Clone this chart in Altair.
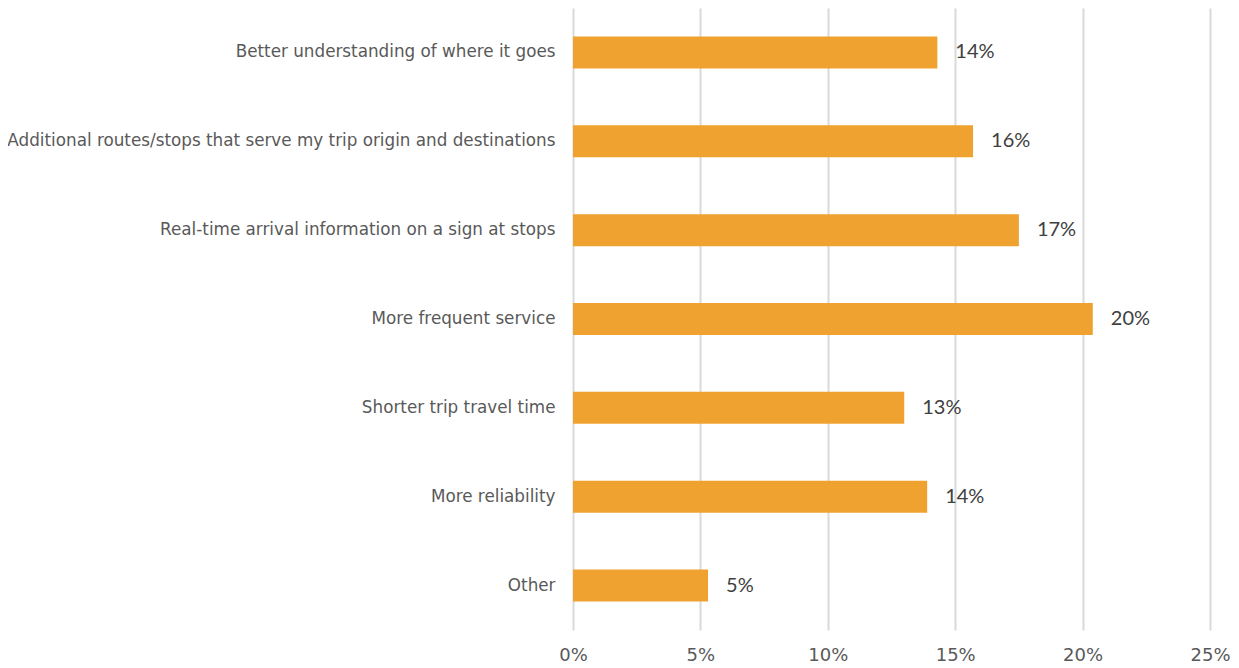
import altair as alt
import pandas as pd

categories = [
    "Better understanding of where it goes",
    "Additional routes/stops that serve my trip origin and destinations",
    "Real-time arrival information on a sign at stops",
    "More frequent service",
    "Shorter trip travel time",
    "More reliability",
    "Other",
]
values = [0.143, 0.157, 0.175, 0.204, 0.130, 0.139, 0.053]
labels = ["14%", "16%", "17%", "20%", "13%", "14%", "5%"]

df = pd.DataFrame({"cat": categories, "val": values, "lab": labels})

y = alt.Y("cat:N", sort=categories, title=None,
          scale=alt.Scale(paddingInner=0.64, paddingOuter=0.32),
          axis=alt.Axis(domain=False, ticks=False, labelPadding=18,
                        labelFont="DejaVu Sans", labelFontSize=16.8,
                        labelColor="#595959", labelLimit=600, grid=False))
x = alt.X("val:Q", title=None,
          scale=alt.Scale(domain=[0, 0.25], nice=False),
          axis=alt.Axis(values=[0, 0.05, 0.10, 0.15, 0.20, 0.25], format=".0%",
                        domain=False, ticks=False, grid=True, gridColor="#d9d9d9",
                        gridWidth=2, labelFont="DejaVu Sans", labelFontSize=18,
                        labelFlush=False, labelOverlap=False, labelBound=False,
                        labelColor="#595959", labelPadding=16))

bars = alt.Chart(df).mark_bar(color="#EFA22F").encode(x=x, y=y)
text = alt.Chart(df).mark_text(align="left", baseline="middle", dx=18,
                               font="Lato", fontSize=20, color="#404040").encode(
    x="val:Q", y=alt.Y("cat:N", sort=categories), text="lab:N")

chart = (bars + text).properties(
    width=637, height=622,
    autosize=alt.AutoSizeParams(type="none"),
    padding={"left": 565, "top": 0, "right": 21, "bottom": 40},
).configure_view(stroke=None)

chart.save("out.html", embed_options={"renderer": "svg", "actions": False})
